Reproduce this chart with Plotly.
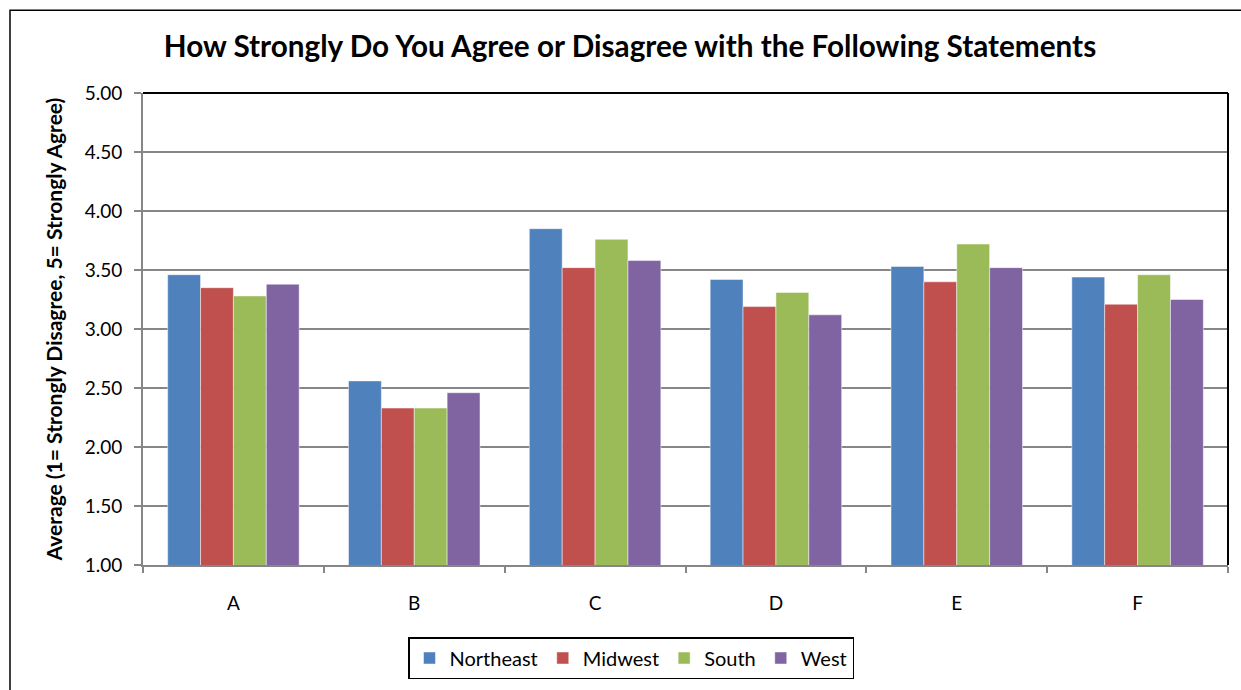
import plotly.graph_objects as go

# Survey statements and regional average scores (1 = strongly disagree, 5 = strongly agree)
statements = ["A", "B", "C", "D", "E", "F"]
northeast = [3.46, 2.56, 3.85, 3.42, 3.53, 3.44]
midwest = [3.35, 2.33, 3.52, 3.19, 3.40, 3.21]
south = [3.28, 2.33, 3.76, 3.31, 3.72, 3.46]
west = [3.38, 2.46, 3.58, 3.12, 3.52, 3.25]

y_ticks = [1.0, 1.5, 2.0, 2.5, 3.0, 3.5, 4.0, 4.5, 5.0]
y_tick_labels = ["1.00", "1.50", "2.00", "2.50", "3.00", "3.50", "4.00", "4.50", "5.00"]

series = [
    ("Northeast", northeast, "#4F81BD"),
    ("Midwest", midwest, "#C0504D"),
    ("South", south, "#9BBB59"),
    ("West", west, "#8064A2"),
]

FONT = "Lato"
GRID = "#868686"

fig = go.Figure()
for name, vals, color in series:
    fig.add_trace(go.Bar(
        name=name, x=statements, y=vals,
        base=0,
        marker=dict(color=color, line=dict(color="rgba(255,255,255,0.6)", width=0.8)),
    ))

fig.update_layout(
    width=1241, height=690,
    margin=dict(l=143, r=13, t=93, b=124),
    paper_bgcolor="white", plot_bgcolor="white",
    barmode="group", bargap=1.5 / 5.5, bargroupgap=0,
    font=dict(family=FONT, color="#000000"),
    title=dict(
        text="<b>How Strongly Do You Agree or Disagree with the Following Statements</b>",
        x=(630 - 143) / 1085, xref="paper", xanchor="center",
        y=1 - 47 / 690, yanchor="middle",
        font=dict(family=FONT, size=29.7, color="#000000"),
    ),
    xaxis=dict(
        type="category",
        showline=True, linecolor=GRID, linewidth=2,
        ticks="outside", tickson="boundaries", ticklen=6, tickcolor=GRID, tickwidth=1.5,
        tickfont=dict(family=FONT, size=19),
        ticklabelstandoff=20,
        showgrid=False,
    ),
    yaxis=dict(
        range=[1, 5], tickvals=y_ticks, ticktext=y_tick_labels,
        showline=True, linecolor=GRID, linewidth=2,
        ticks="outside", ticklen=7, tickcolor=GRID, tickwidth=1.5,
        tickfont=dict(family=FONT, size=19),
        ticklabelstandoff=8,
        showgrid=True, gridcolor=GRID, gridwidth=1.5,
        zeroline=False,
        title=dict(text="<b>Average (1= Strongly Disagree, 5= Strongly Agree)</b>",
                   font=dict(family=FONT, size=21), standoff=16),
    ),
    legend=dict(
        orientation="h",
        x=(631 - 143) / 1085, xanchor="center",
        y=(566 - 658) / 473, yanchor="middle",
        bordercolor="#000000", borderwidth=1.5,
        font=dict(family=FONT, size=20),
        itemwidth=30, traceorder="normal",
    ),
    shapes=[
        # plot-area frame: top and right edges
        dict(type="line", xref="paper", yref="paper", x0=0, x1=1, y0=1, y1=1,
             line=dict(color="#000000", width=2)),
        dict(type="line", xref="paper", yref="paper", x0=1, x1=1, y0=0, y1=1,
             line=dict(color="#000000", width=2)),
        # chart outer border
        dict(type="rect", xref="paper", yref="paper",
             x0=(10 - 143) / 1085, x1=(1250 - 143) / 1085,
             y0=(566 - 700) / 473, y1=1 + (93 - 10) / 473,
             line=dict(color="#000000", width=1.5), layer="below"),
    ],
)

fig.write_html("out.html")
